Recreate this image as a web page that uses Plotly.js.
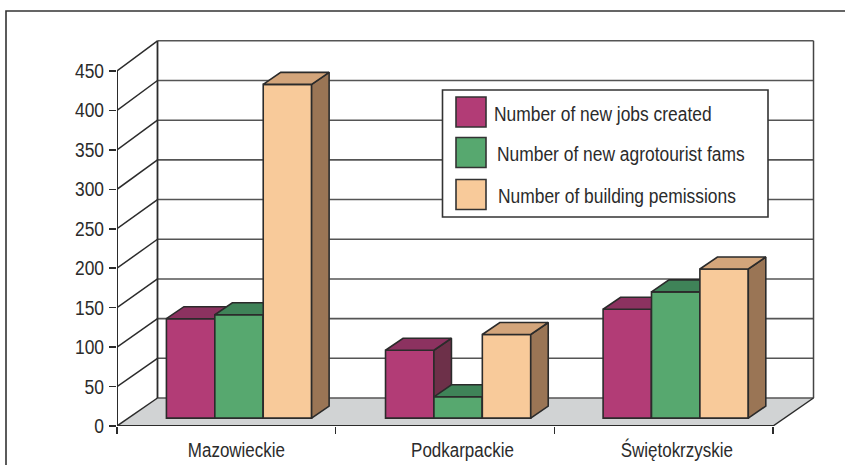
<!DOCTYPE html>
<html><head><meta charset="utf-8">
<script src="https://cdn.plot.ly/plotly-3.0.1.min.js"></script>
<style>html,body{margin:0;padding:0;background:#fff}</style></head>
<body><div id="chart" style="width:845px;height:465px"></div>
<script>
const categories = ['Mazowieckie', 'Podkarpackie', 'Świętokrzyskie'];
const jobs = [126, 86, 138];
const farms = [131, 27, 160];
const permits = [423, 106, 189];
const seriesNames = ['Number of new jobs created', 'Number of new agrotourist fams', 'Number of building pemissions'];
const yTicks = [0, 50, 100, 150, 200, 250, 300, 350, 400, 450];
const groupCenters = [0.558, 1.560, 2.555];
const labelPositions = [0.546, 1.58, 2.56];
const boundaries = [0, 1, 2, 3];

const frontColors = ['#b23c76', '#57a86f', '#f8ca9a'];
const topColors = ['#8c3260', '#3f8358', '#d3a57b'];
const sideColors = ['#6d3049', '#3f7a52', '#9a7555'];
const dark = '#2b2b2b', fontName = '"Liberation Sans", sans-serif';

const W = 845, H = 465, L = 117, R = 815, T = 39, B = 426;
const pxPerCat = 218.67, pxPerUnit = 0.789;
const xMax = (R - L) / pxPerCat, yMax = (B - T) / pxPerUnit;
const wallDx = 40.5 / pxPerCat, wallDy = 28 / pxPerUnit, wallScale = 1.006;
const barW = 48.4 / pxPerCat, barDx = 17.5 / pxPerCat, barDy = 12 / pxPerUnit, barBase = 10;
const px = x => (x - L) / (R - L), py = y => (B - y) / (B - T);

const traces = [];
[jobs, farms, permits].forEach((vals, s) => {
  const xs = groupCenters.map(c => c + (s - 1) * barW);
  const z = s + 1;
  traces.push({type: 'bar', x: xs, y: vals, base: vals.map(() => barBase), width: barW, name: seriesNames[s],
    marker: {color: frontColors[s], line: {color: dark, width: 1.6}}, zorder: z, hoverinfo: 'y'});
  const tx = [], ty = [], sx = [], sy = [];
  xs.forEach((c, i) => {
    const l = c - barW / 2, r = c + barW / 2, t = barBase + vals[i];
    tx.push(l, r, r + barDx, l + barDx, l, null);
    ty.push(t, t, t + barDy, t + barDy, t, null);
    sx.push(r, r, r + barDx, r + barDx, r, null);
    sy.push(barBase, t, t + barDy, barBase + barDy, barBase, null);
  });
  traces.push({type: 'scatter', mode: 'lines', x: sx, y: sy, fill: 'toself', fillcolor: sideColors[s],
    line: {color: dark, width: 1.6}, zorder: z, hoverinfo: 'skip'});
  traces.push({type: 'scatter', mode: 'lines', x: tx, y: ty, fill: 'toself', fillcolor: topColors[s],
    line: {color: dark, width: 1.6}, zorder: z, hoverinfo: 'skip'});
});

const line = (x0, y0, x1, y1, color, width) => ({type: 'line', layer: 'below', xref: 'x', yref: 'y', x0, y0, x1, y1, line: {color, width}});
const xFront = boundaries[boundaries.length - 1], yTop = yTicks[yTicks.length - 1];
const wallY = v => wallDy + v * wallScale;
const shapes = [];
shapes.push({type: 'path', layer: 'below', xref: 'x', yref: 'y',
  path: `M0,0 L${xFront},0 L${xFront + wallDx},${wallDy} L${wallDx},${wallDy} Z`, fillcolor: '#d1d3d4', line: {width: 0}});
yTicks.forEach(v => {
  shapes.push(line(wallDx, wallY(v), xFront + wallDx, wallY(v), '#555555', 1.6));
  shapes.push(line(0, v, wallDx, wallY(v), dark, 1.5));
});
shapes.push(line(wallDx, wallDy, wallDx, wallY(yTop), dark, 1.8));
shapes.push(line(xFront + wallDx, wallDy, xFront + wallDx, wallY(yTop), '#444444', 1.5));
shapes.push(line(xFront, 0, xFront + wallDx, wallDy, dark, 1.5));
shapes.push(line(0, 0, 0, yTop, dark, 2));
shapes.push(line(0, 0, xFront, 0, dark, 2.2));

const paperRect = (x0, y0, x1, y1, fill, color, width) => ({type: 'rect', layer: 'above', xref: 'paper', yref: 'paper',
  x0: px(x0), x1: px(x1), y0: py(y0), y1: py(y1), fillcolor: fill, line: {color, width}});
shapes.push({type: 'path', layer: 'above', xref: 'paper', yref: 'paper',
  path: `M${px(6)},${py(470)} L${px(6)},${py(11)} L${px(850)},${py(11)}`, line: {color: '#333333', width: 1.6}});
shapes.push(paperRect(442.5, 90, 768, 217, '#ffffff', '#333333', 1.6));
const swatchTops = [97, 137.5, 179.5], labelX = [492, 495, 496], labelY = [114, 154, 196];
const annotations = seriesNames.map((name, i) => ({xref: 'paper', yref: 'paper', x: px(labelX[i]), y: py(labelY[i]),
  xanchor: 'left', yanchor: 'middle', align: 'left', showarrow: false, text: name, font: {family: fontName, size: 20, color: dark}}));
swatchTops.forEach((t, i) => shapes.push(paperRect(456, t, 486, t + 30, frontColors[i], '#333333', 1.6)));

Plotly.newPlot('chart', traces, {
  width: W, height: H, autosize: false, showlegend: false, barmode: 'overlay',
  margin: {l: L, r: W - R, t: T, b: H - B, pad: 0},
  paper_bgcolor: '#ffffff', plot_bgcolor: 'rgba(0,0,0,0)',
  font: {family: fontName, color: dark},
  xaxis: {range: [0, xMax], showgrid: false, zeroline: false, showline: false, tickmode: 'array',
    tickvals: labelPositions, ticktext: categories, ticks: '', tickfont: {family: fontName, size: 19.5, color: dark},
    ticklabelstandoff: 10,
    minor: {tickmode: 'array', tickvals: boundaries, ticks: 'outside', ticklen: 7, tickwidth: 1.5, tickcolor: dark, showgrid: false}},
  yaxis: {range: [0, yMax], showgrid: false, zeroline: false, showline: false, tickmode: 'array',
    tickvals: yTicks, ticktext: yTicks.map(String), ticks: 'outside', ticklen: 7, tickwidth: 1.5, tickcolor: dark,
    ticklabelstandoff: 1,
    tickfont: {family: fontName, size: 20, color: dark}},
  shapes, annotations
}, {displayModeBar: false, staticPlot: true}).then(() => {
  // The reference uses a condensed face; no narrow family is installed, so condense the real text.
  document.querySelectorAll('.xtick text, .ytick text, .annotation-text').forEach(t => {
    t.setAttribute('textLength', (t.getComputedTextLength() * 0.87).toFixed(1));
    t.setAttribute('lengthAdjust', 'spacingAndGlyphs');
  });
});
</script></body></html>
